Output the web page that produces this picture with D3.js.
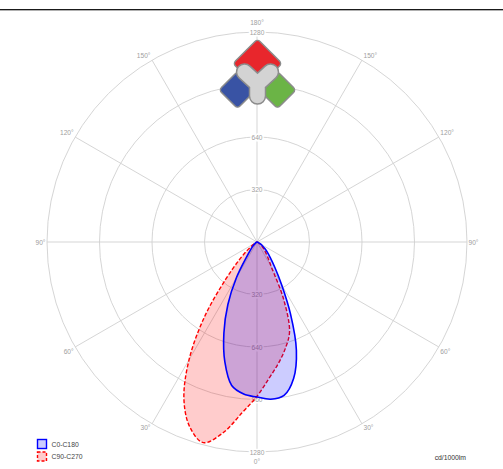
<!DOCTYPE html>
<html><head><meta charset="utf-8">
<script src="https://cdn.jsdelivr.net/npm/d3@7"></script>
<style>
html,body{margin:0;padding:0;background:#fff;}
svg{display:block;font-family:"Liberation Sans",Arial,sans-serif;}
</style></head>
<body>
<svg id="chart" width="503" height="469"></svg>
<script>
// gamma angles (degrees) for each half-plane; values beyond 90° are 0
const gammaDeg = [0,5,10,15,20,25,30,35,40,45,50,55,60,65,70,75,80,85,90];
// C0-C180 plane (cd/1000lm)
const c0   = [945, 962, 950, 862, 702, 482, 299, 190, 128, 90, 62, 40, 24, 12, 5, 2, 0, 0, 0];
const c180 = [945, 930, 888, 757, 590, 420, 250, 110, 60, 35, 20, 12, 6, 3, 1, 0, 0, 0, 0];
// C90-C270 plane (cd/1000lm)
const c90  = [940, 835, 751, 670, 580, 382, 175, 115, 80, 58, 40, 26, 15, 7, 2, 0, 0, 0, 0];
const c270 = [940, 1045, 1179, 1266, 1199, 1054, 828, 560, 298, 150, 70, 30, 12, 4, 0, 0, 0, 0, 0];
const ringValues = [320, 640, 960, 1280];
const angleTicks = [0, 30, 60, 90, 120, 150, 180];
const seriesNames = ["C0-C180", "C90-C270"];
const unitLabel = "cd/1000lm";

const svg = d3.select("#chart");
const cx = 257, cy = 242, R = 210;
const r = d3.scaleLinear().domain([0, 1280]).range([0, R]);
const rad = d3.scaleLinear().domain([0, 180]).range([0, Math.PI]);

// top frame line
svg.append("rect").attr("x",0).attr("y",9).attr("width",503).attr("height",1).attr("fill","#1a1a1a");
svg.append("rect").attr("x",0).attr("y",10).attr("width",503).attr("height",1).attr("fill","#b0b0b0");

const g = svg.append("g").attr("transform", `translate(${cx},${cy})`);
const gridColor = "#d0d0d0";

// rings
g.selectAll("circle.ring").data(ringValues).enter().append("circle")
  .attr("r", d => r(d)).attr("fill","none").attr("stroke",gridColor).attr("stroke-width",0.9);

// radial lines every 30°
const spokes = d3.range(0, 360, 30);
g.selectAll("line.spoke").data(spokes).enter().append("line")
  .attr("x1",0).attr("y1",0)
  .attr("x2", d => R*Math.sin(rad(d))).attr("y2", d => R*Math.cos(rad(d)))
  .attr("stroke",gridColor).attr("stroke-width",0.9);

const labelColor = "#a0a0a0";
const fs = 6.6;
// ring labels (top and bottom)
[-1, 1].forEach(s => {
  g.selectAll(null).data(ringValues).enter().append("text")
    .attr("x",0).attr("y", d => s*r(d))
    .attr("text-anchor","middle").attr("dominant-baseline","central")
    .attr("font-size",fs).attr("fill",labelColor)
    .attr("stroke","#fff").attr("stroke-width",3).attr("paint-order","stroke")
    .text(d => d);
});
// 0° and 180° labels
g.append("text").attr("x",0).attr("y",R+9.5).attr("text-anchor","middle").attr("dominant-baseline","central")
  .attr("font-size",fs).attr("fill",labelColor).text(angleTicks[0] + "°");
g.append("text").attr("x",0).attr("y",-R-10).attr("text-anchor","middle").attr("dominant-baseline","central")
  .attr("font-size",fs).attr("fill",labelColor).text(angleTicks[6] + "°");
// side angle labels
const sideTicks = angleTicks.filter(a => a > 0 && a < 180);
[-1, 1].forEach(s => {
  g.selectAll(null).data(sideTicks).enter().append("text")
    .attr("x", d => s*(R*Math.sin(rad(d)) + 1.5))
    .attr("y", d => R*Math.cos(rad(d)) + (d < 90 ? 4 : d > 90 ? -4.5 : 0))
    .attr("text-anchor", s < 0 ? "end" : "start").attr("dominant-baseline","central")
    .attr("font-size",fs).attr("fill",labelColor)
    .text(d => d + "°");
});

// build closed polar outlines
function outline(rightVals, leftVals) {
  const pts = [];
  for (let i = gammaDeg.length - 1; i >= 1; i--) pts.push({a: Math.PI - rad(gammaDeg[i]), v: rightVals[i]});
  pts.push({a: Math.PI, v: (rightVals[0] + leftVals[0]) / 2});
  for (let i = 1; i < gammaDeg.length; i++) pts.push({a: Math.PI + rad(gammaDeg[i]), v: leftVals[i]});
  const out = [];
  pts.forEach(p => {
    if (p.v === 0 && out.length && out[out.length-1].v === 0) return;
    out.push(p);
  });
  if (out.length > 1 && out[0].v === 0 && out[out.length-1].v === 0) out.pop();
  return out;
}
const radial = d3.lineRadial().angle(d => d.a).radius(d => r(d.v)).curve(d3.curveCatmullRomClosed.alpha(0.5));

// C90-C270 (red, dashed)
g.append("path").attr("d", radial(outline(c90, c270)))
  .attr("fill","rgba(255,0,0,0.2)").attr("stroke","#ff0000").attr("stroke-width",1.4)
  .attr("stroke-dasharray","4,2");
// C0-C180 (blue)
g.append("path").attr("d", radial(outline(c0, c180)))
  .attr("fill","rgba(0,0,255,0.2)").attr("stroke","#0000ff").attr("stroke-width",1.6);

// logo
const logo = svg.append("g");
function diamond(x, y, half, fill) {
  const s = half * Math.SQRT2;
  logo.append("rect").attr("x", -s/2).attr("y", -s/2).attr("width", s).attr("height", s)
    .attr("rx", 3.5).attr("ry", 3.5)
    .attr("transform", `translate(${x},${y}) rotate(45)`)
    .attr("fill", fill).attr("stroke", "#8c8c8c").attr("stroke-width", 1.5);
}
diamond(257.5, 63.5, 24.5, "#e8262c");
diamond(237.5, 90, 18.5, "#3953a4");
diamond(277.5, 90, 18.5, "#6bb446");
const yPath = "M244.5,72 L257.5,84 L270.5,72 M257.5,84 L257.5,96";
logo.append("path").attr("d", yPath).attr("fill","none").attr("stroke","#8c8c8c")
  .attr("stroke-width",17.5).attr("stroke-linecap","round").attr("stroke-linejoin","round");
logo.append("path").attr("d", yPath).attr("fill","none").attr("stroke","#d3d3d3")
  .attr("stroke-width",14.5).attr("stroke-linecap","round").attr("stroke-linejoin","round");

// legend
const leg = svg.append("g");
leg.append("rect").attr("x",37.5).attr("y",439.5).attr("width",9).attr("height",9)
  .attr("fill","#ccccff").attr("stroke","#0000ff").attr("stroke-width",1.4);
leg.append("rect").attr("x",37.5).attr("y",452).attr("width",9).attr("height",9)
  .attr("fill","#ffcccc").attr("stroke","#ff0000").attr("stroke-width",1.4).attr("stroke-dasharray","3,2");
leg.append("text").attr("x",51.5).attr("y",444).attr("dominant-baseline","central")
  .attr("font-size",6.8).attr("fill","#444").text(seriesNames[0]);
leg.append("text").attr("x",51.5).attr("y",456.5).attr("dominant-baseline","central")
  .attr("font-size",6.8).attr("fill","#444").text(seriesNames[1]);
svg.append("text").attr("x",466).attr("y",457).attr("text-anchor","end").attr("dominant-baseline","central")
  .attr("font-size",6.8).attr("fill","#333").text(unitLabel);
</script>
</body></html>
